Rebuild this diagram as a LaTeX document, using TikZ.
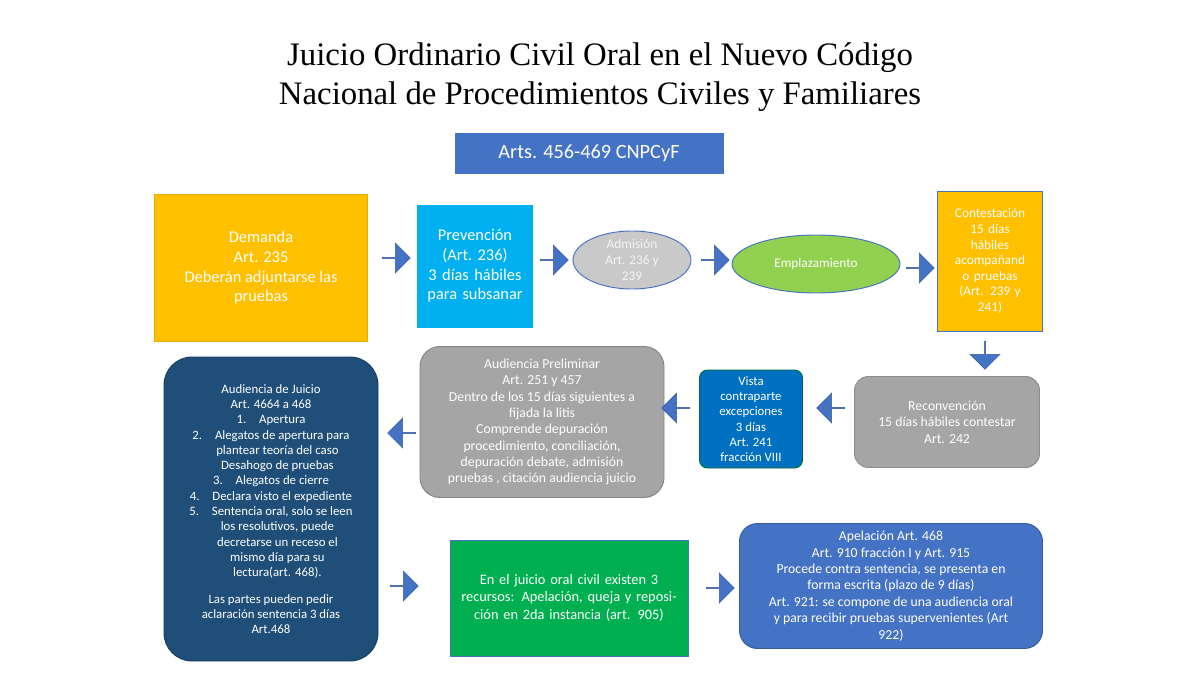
\documentclass[tikz,border=0pt]{standalone}
\usepackage{fontspec}
\setmainfont{Carlito}
\newfontfamily\titlefont{Liberation Serif}
\usetikzlibrary{shapes.geometric, shapes.arrows, positioning}
\newlength\px
\setlength\px{0.0225cm}
\definecolor{cblue}{HTML}{4472C4}
\definecolor{cgold}{HTML}{FFC000}
\definecolor{ccyan}{HTML}{00B0F0}
\definecolor{cgrey}{HTML}{A5A5A5}
\definecolor{cnavy}{HTML}{1F4E79}
\definecolor{cmid}{HTML}{0070C0}
\definecolor{cgreen}{HTML}{00B050}
\definecolor{clime}{HTML}{92D050}
\tikzset{
  box/.style={text=white, align=center, inner sep=2pt, draw=cblue, line width=0.6pt},
  rbox/.style={box, rounded corners=14\px},
  blk/.style={single arrow, fill=cblue, draw=cblue!80!black, line width=0.3pt,
    minimum height=28\px, minimum width=30\px, single arrow head extend=5\px, inner sep=0pt},
  fs/.style 2 args={font=\fontsize{#1}{#2}\selectfont}
}
\begin{document}
\begin{tikzpicture}[x=\px, y=-\px]
\useasboundingbox (0,0) rectangle (1200,675);
% title
\node[font=\titlefont\fontsize{21}{25}\selectfont, align=center] (title) at (600,77)
  {Juicio Ordinario Civil Oral en el Nuevo Código\\Nacional de Procedimientos Civiles y Familiares};
\node[box, fill=cblue, minimum width=268\px, minimum height=40\px, fs={13}{16}] (arts) at (589,153) {Arts. 456-469 CNPCyF};
% first row
\node[box, fill=cgold, draw=cgold!90!black, minimum width=213\px, minimum height=147\px, fs={10.5}{12.6}] (demanda) at (261,268)
  {Demanda\\Art. 235\\Deberán adjuntarse las\\pruebas};
\node[box, fill=ccyan, draw=ccyan, text width=100\px, minimum width=115\px, minimum height=122\px, fs={10.5}{12.6}] (prev) at (475,266)
  {Prevención (Art.~236)\\3 días hábiles para subsanar};
\node[ellipse, box, fill=black!21, text=black!4, minimum width=118\px, minimum height=58\px, fs={8.5}{10}, inner sep=0pt] (admision) at (632,260)
  {Admisión\\Art. 236 y\\239};
\node[ellipse, box, fill=clime, minimum width=168\px, minimum height=58\px, fs={8.5}{10}] (empl) at (816,264) {Emplazamiento};
\node[box, fill=cgold, minimum width=105\px, minimum height=140\px, text width=95\px, fs={8.5}{10}] (contest) at (990,261)
  {Contestación\\15 días\\hábiles\\acompañand\\o pruebas\\(Art. 239 y\\241)};
% second row
\node[rbox, fill=cgrey, draw=cgrey!85!black, minimum width=185\px, minimum height=91\px, fs={8.8}{10.5}] (reconv) at (947,422)
  {Reconvención\\15 días hábiles contestar\\Art. 242};
\node[rbox, fill=cmid, draw=cgreen!60!black, rounded corners=8\px, minimum width=103\px, minimum height=98\px, fs={8.2}{9.8}] (vista) at (751,419)
  {Vista\\contraparte\\excepciones\\3 días\\Art. 241\\fracción VIII};
\node[rbox, fill=cgrey, draw=cgrey!80!black, rounded corners=20\px, minimum width=244\px, minimum height=151\px, fs={8.8}{10.5}] (prelim) at (542,422)
  {Audiencia Preliminar\\Art. 251 y 457\\Dentro de los 15 días siguientes a\\fijada la litis\\Comprende depuración\\procedimiento, conciliación,\\depuración debate, admisión\\pruebas , citación audiencia juicio};
\node[rbox, fill=cnavy, draw=cnavy!80!black, rounded corners=28\px, minimum width=214\px, minimum height=304\px, fs={8.2}{9.8}] (juicio) at (271,509)
  {Audiencia de Juicio\\Art. 4664 a 468\\1.\quad Apertura\\2.\quad Alegatos de apertura para\\\quad plantear teoría del caso\\\quad Desahogo de pruebas\\3.\quad Alegatos de cierre\\4.\quad Declara visto el expediente\\5.\quad Sentencia oral, solo se leen\\\quad los resolutivos, puede\\\quad decretarse un receso el\\\quad mismo día para su\\\quad lectura(art. 468).\\[7pt]Las partes pueden pedir\\aclaración sentencia 3 días\\Art.468};
% third row
\node[box, fill=cgreen, minimum width=238\px, minimum height=116\px, text width=220\px, fs={9.2}{11}] (recursos) at (569,598)
  {En el juicio oral civil existen 3 recursos: Apelación, queja y reposición en 2da instancia (art. 905)};
\node[rbox, fill=cblue, draw=cblue!80!black, rounded corners=18\px, minimum width=303\px, minimum height=125\px, fs={8.8}{10.5}] (apel) at (891,586)
  {Apelación Art. 468\\Art. 910 fracción I y Art. 915\\Procede contra sentencia, se presenta en\\forma escrita (plazo de 9 días)\\Art. 921: se compone de una audiencia oral\\y para recibir pruebas supervenientes (Art\\922)};
% block arrows
\node[blk] (a1) at (396,258) {};
\node[blk] (a2) at (554,260) {};
\node[blk] (a3) at (715,260) {};
\node[blk] (a4) at (920,268) {};
\node[blk, rotate=-90] (a5) at (985,355) {};
\node[blk, rotate=180] (a6) at (831,408) {};
\node[blk, rotate=180] (a7) at (676,408) {};
\node[blk, rotate=180] (a8) at (402,433) {};
\node[blk] (a9) at (404,586) {};
\node[blk] (a10) at (720,588) {};
\end{tikzpicture}
\end{document}
